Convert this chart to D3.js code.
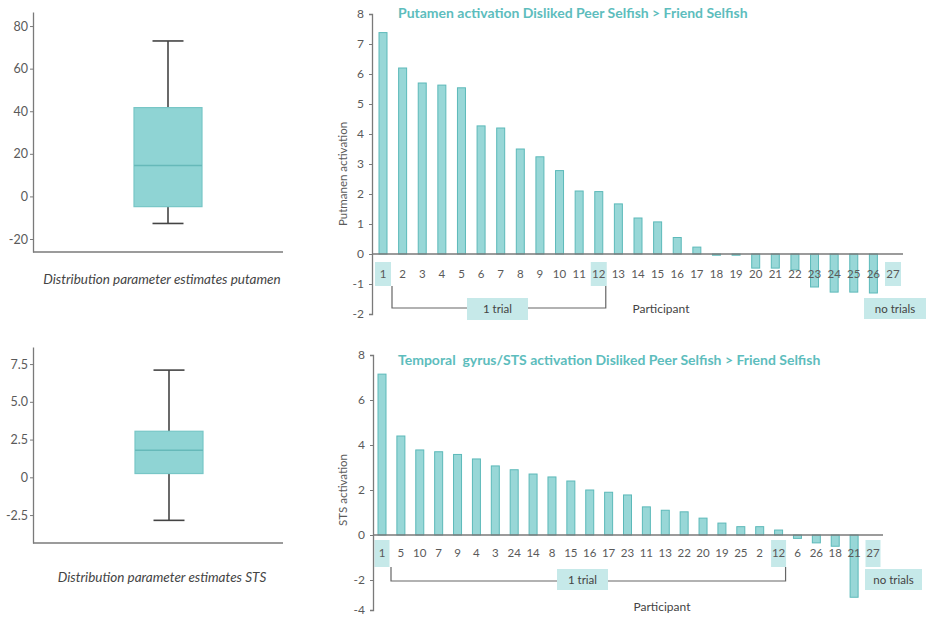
<!DOCTYPE html>
<html>
<head>
<meta charset="utf-8">
<script src="https://cdn.jsdelivr.net/npm/d3@7"></script>
<style>
  html, body { margin: 0; padding: 0; background: #fff; }
  svg { display: block; font-family: Lato, "Noto Sans", sans-serif; }
</style>
</head>
<body>
<svg id="chart" width="934" height="618"></svg>
<script>
// ---- data ----
const statNames = ["min", "q1", "median", "q3", "max"];
const putamenStats = [-12.7, -4.8, 14.5, 41.7, 73];
const stsStats = [-2.85, 0.25, 1.8, 3.05, 7.1];

const putamenTicks = [-20, 0, 20, 40, 60, 80];
const stsBoxTicks = [-2.5, 0, 2.5, 5, 7.5];

const putamenParticipants = ["1","2","3","4","5","6","7","8","9","10","11","12","13","14","15","16","17","18","19","20","21","22","23","24","25","26","27"];
const putamenValues = [7.38, 6.2, 5.7, 5.63, 5.54, 4.27, 4.2, 3.5, 3.24, 2.78, 2.1, 2.08, 1.67, 1.2, 1.07, 0.55, 0.23, -0.04, -0.04, -0.47, -0.47, -0.53, -1.1, -1.27, -1.27, -1.3, null];

const stsParticipants = ["1","5","10","7","9","4","3","24","14","8","15","16","17","23","11","13","22","20","19","25","2","12","6","26","18","21","27"];
const stsValues = [7.15, 4.4, 3.78, 3.7, 3.58, 3.38, 3.07, 2.9, 2.71, 2.58, 2.4, 2.0, 1.9, 1.78, 1.25, 1.1, 1.03, 0.75, 0.53, 0.37, 0.37, 0.22, -0.15, -0.35, -0.5, -3.15, null];

const putamenBarTicks = [-2, -1, 0, 1, 2, 3, 4, 5, 6, 7, 8];
const stsBarTicks = [-4, -2, 0, 2, 4, 6, 8];

const highlighted = ["1", "12", "27"];   // first / last single-trial participant, and no-trial participant
const bracketEnds = ["1", "12"];

// ---- styles ----
const TEAL_FILL = "#8fd4d4";
const TEAL_STROKE = "#5cb9b9";
const TEAL_LIGHT = "#c6e9e9";
const TITLE = "#5dbdbd";
const AXIS = "#7a7a7a";
const TEXT = "#5a5a5a";

// plain hyphen for negative numbers
const hyphen = f => d => f(d).replace("\u2212", "-");

const svg = d3.select("#chart");

function styleAxis(g, fontSize) {
  g.select(".domain").attr("stroke", AXIS).attr("stroke-width", 1.3);
  g.selectAll(".tick line").attr("stroke", AXIS).attr("stroke-width", 1);
  g.selectAll(".tick text").attr("fill", TEXT).attr("font-size", fontSize)
    .attr("font-family", "Lato, sans-serif");
}

// ---- box plots ----
function boxPlot(opt) {
  const s = Object.fromEntries(statNames.map((n, i) => [n, opt.stats[i]]));
  const y = d3.scaleLinear().domain(opt.domain).range([opt.bottom, opt.top]);
  const g = svg.append("g");

  const ax = g.append("g").attr("transform", `translate(${opt.left},0)`)
    .call(d3.axisLeft(y).tickValues(opt.ticks).tickSize(3).tickSizeOuter(0).tickPadding(2).tickFormat(opt.fmt));
  styleAxis(ax, 12.5);

  g.append("line").attr("x1", opt.left).attr("x2", opt.right)
    .attr("y1", opt.bottom).attr("y2", opt.bottom)
    .attr("stroke", AXIS).attr("stroke-width", 1.3);

  const cx = opt.cx, bw = 68, cw = 31;
  g.append("line").attr("x1", cx).attr("x2", cx).attr("y1", y(s.max)).attr("y2", y(s.q3))
    .attr("stroke", "#444").attr("stroke-width", 1.6);
  g.append("line").attr("x1", cx).attr("x2", cx).attr("y1", y(s.q1)).attr("y2", y(s.min))
    .attr("stroke", "#444").attr("stroke-width", 1.6);
  [s.max, s.min].forEach(v => g.append("line")
    .attr("x1", cx - cw / 2).attr("x2", cx + cw / 2).attr("y1", y(v)).attr("y2", y(v))
    .attr("stroke", "#444").attr("stroke-width", 1.6));
  g.append("rect").attr("x", cx - bw / 2).attr("width", bw)
    .attr("y", y(s.q3)).attr("height", y(s.q1) - y(s.q3))
    .attr("fill", TEAL_FILL).attr("stroke", "#77c6c6").attr("stroke-width", 1.2);
  g.append("line").attr("x1", cx - bw / 2).attr("x2", cx + bw / 2)
    .attr("y1", y(s.median)).attr("y2", y(s.median))
    .attr("stroke", "#66b9b9").attr("stroke-width", 1.5);

  g.append("text").attr("x", opt.capX).attr("y", opt.capY)
    .attr("text-anchor", "middle").attr("font-style", "italic")
    .attr("font-size", 13.5).attr("fill", "#444").text(opt.caption);
}

boxPlot({
  stats: putamenStats, domain: [-26.1, 86.6], top: 12, bottom: 252, left: 33, right: 283,
  ticks: putamenTicks, fmt: hyphen(d3.format("d")), cx: 168,
  caption: "Distribution parameter estimates putamen", capX: 162, capY: 284
});
boxPlot({
  stats: stsStats, domain: [-4.35, 8.63], top: 347, bottom: 543, left: 33, right: 283,
  ticks: stsBoxTicks, fmt: d => d === 0 ? "0" : hyphen(d3.format(".1f"))(d), cx: 169,
  caption: "Distribution parameter estimates STS", capX: 162, capY: 582
});

// ---- bar charts ----
function barChart(opt) {
  const x = d3.scalePoint().domain(opt.participants).range([opt.x0, opt.x1]);
  const y = d3.scaleLinear().domain(opt.yDomain).range(opt.yRange);
  const g = svg.append("g");
  const data = opt.participants.map((p, i) => ({ p, v: opt.values[i] }));
  const zero = y(0);

  // highlight boxes behind selected participant labels
  g.selectAll("rect.hl").data(highlighted).join("rect").attr("class", "hl")
    .attr("x", d => x(d) - opt.hlW / 2).attr("width", opt.hlW)
    .attr("y", opt.hlTop).attr("height", opt.hlH)
    .attr("fill", TEAL_LIGHT);

  // bars
  g.selectAll("rect.bar").data(data.filter(d => d.v !== null)).join("rect").attr("class", "bar")
    .attr("x", d => x(d.p) - opt.barW / 2).attr("width", opt.barW)
    .attr("y", d => Math.min(y(d.v), zero)).attr("height", d => Math.abs(y(d.v) - zero))
    .attr("fill", TEAL_FILL).attr("fill-opacity", 0.92)
    .attr("stroke", TEAL_STROKE).attr("stroke-width", 1);

  // participant labels, drawn over the bars
  g.selectAll("text.pl").data(opt.participants).join("text").attr("class", "pl")
    .attr("x", d => x(d)).attr("y", opt.labelY).attr("dy", "0.35em")
    .attr("text-anchor", "middle").attr("font-size", 11.5).attr("fill", TEXT)
    .text(d => d);

  // zero line
  g.append("line").attr("x1", opt.axisX).attr("x2", opt.zeroEnd).attr("y1", zero).attr("y2", zero)
    .attr("stroke", AXIS).attr("stroke-width", 1.3);

  // y axis
  const ax = g.append("g").attr("transform", `translate(${opt.axisX},0)`)
    .call(d3.axisLeft(y).tickValues(opt.ticks).tickSize(3).tickSizeOuter(3).tickPadding(5).tickFormat(hyphen(d3.format("d"))));
  styleAxis(ax, 12);

  // y axis title
  g.append("text").attr("transform", `translate(${opt.yTitleX},${opt.yTitleY}) rotate(-90)`)
    .attr("text-anchor", "middle").attr("dy", "0.35em").attr("font-size", 11.5)
    .attr("fill", TEXT).text(opt.yTitle);

  // chart title
  g.append("text").attr("x", 398).attr("y", opt.titleY).attr("dy", "0.35em")
    .attr("font-size", 14).attr("font-weight", "bold").attr("fill", TITLE)
    .attr("xml:space", "preserve").style("white-space", "pre")
    .text(opt.title);

  // bracket spanning single-trial participants
  const bx0 = x(bracketEnds[0]) + 9, bx1 = x(bracketEnds[1]) + 7;
  g.append("path")
    .attr("d", `M${bx0},${opt.hlTop + opt.hlH}V${opt.bracketY}H${bx1}V${opt.hlTop + opt.hlH}`)
    .attr("fill", "none").attr("stroke", "#666").attr("stroke-width", 1.2);

  // "1 trial" tag
  g.append("rect").attr("x", opt.trialBox[0]).attr("y", opt.trialBox[1])
    .attr("width", opt.trialBox[2]).attr("height", opt.trialBox[3]).attr("fill", TEAL_LIGHT);
  g.append("text").attr("x", opt.trialBox[0] + opt.trialBox[2] / 2)
    .attr("y", opt.trialBox[1] + opt.trialBox[3] / 2).attr("dy", "0.35em")
    .attr("text-anchor", "middle").attr("font-size", 11.5).attr("fill", "#444").text("1 trial");

  // "no trials" tag
  g.append("rect").attr("x", opt.noBox[0]).attr("y", opt.noBox[1])
    .attr("width", opt.noBox[2]).attr("height", opt.noBox[3]).attr("fill", TEAL_LIGHT);
  g.append("text").attr("x", opt.noBox[0] + opt.noBox[2] / 2)
    .attr("y", opt.noBox[1] + opt.noBox[3] / 2).attr("dy", "0.35em")
    .attr("text-anchor", "middle").attr("font-size", 11.5).attr("fill", "#444").text("no trials");

  // x axis title
  g.append("text").attr("x", opt.partX).attr("y", opt.partY).attr("dy", "0.35em")
    .attr("text-anchor", "middle").attr("font-size", 12).attr("fill", "#444").text("Participant");
}

barChart({
  participants: putamenParticipants, values: putamenValues,
  x0: 383, x1: 893, barW: 8,
  yDomain: [-2, 8], yRange: [314, 14], ticks: putamenBarTicks,
  axisX: 372, zeroEnd: 903,
  hlTop: 262, hlH: 24, hlW: 16, labelY: 274,
  yTitle: "Putmanen activation", yTitleX: 343, yTitleY: 174,
  title: "Putamen activation Disliked Peer Selfish > Friend Selfish", titleY: 13,
  bracketY: 308, trialBox: [467, 298, 61, 22], noBox: [864, 298, 62, 21],
  partX: 661, partY: 309
});

barChart({
  participants: stsParticipants, values: stsValues,
  x0: 382, x1: 873, barW: 8,
  yDomain: [-4, -2, 8], yRange: [610, 580, 355], ticks: stsBarTicks,
  axisX: 373, zeroEnd: 883,
  hlTop: 540, hlH: 27, hlW: 15, labelY: 553,
  yTitle: "STS activation", yTitleX: 343, yTitleY: 490,
  title: "Temporal  gyrus/STS activation Disliked Peer Selfish > Friend Selfish", titleY: 360,
  bracketY: 581, trialBox: [557, 569, 51, 21], noBox: [865, 569, 57, 21],
  partX: 662, partY: 607
});
</script>
</body>
</html>
